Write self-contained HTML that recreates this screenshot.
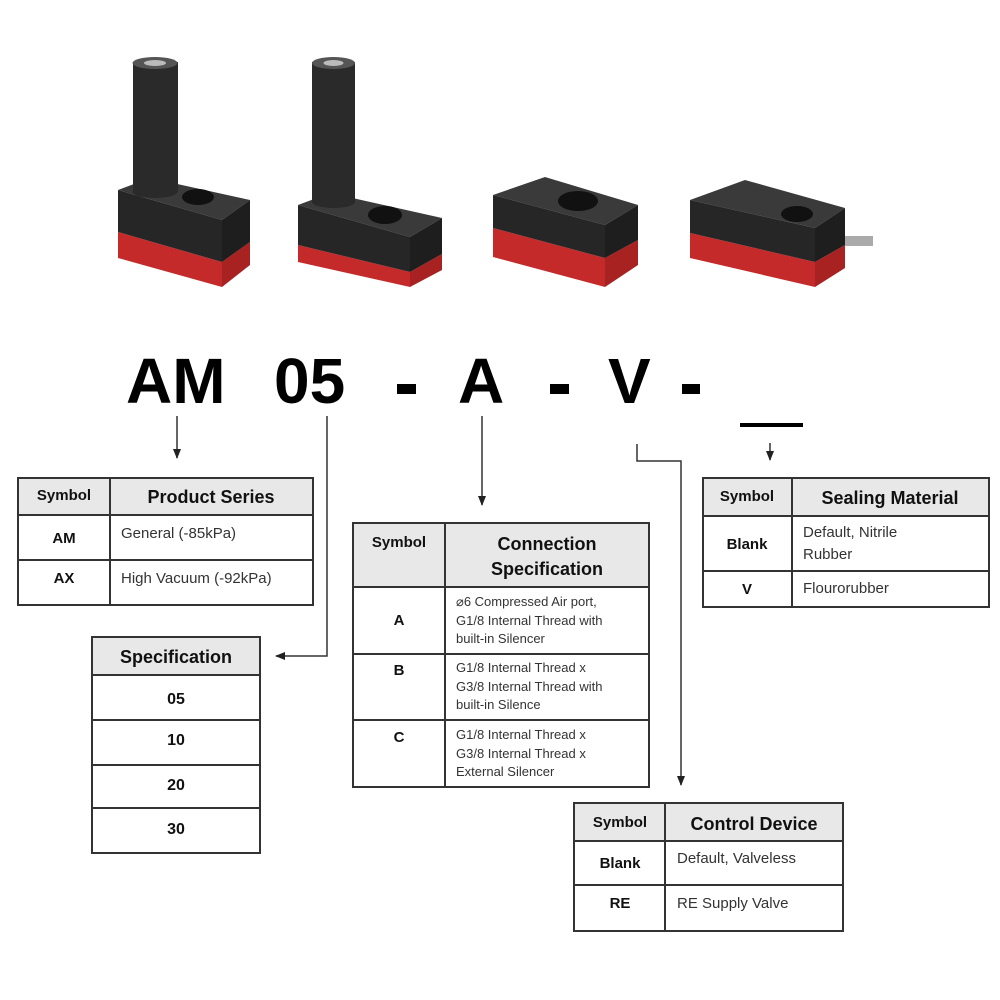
<!DOCTYPE html>
<html><head><meta charset="utf-8"><style>
html,body{margin:0;padding:0;background:#fff;}
svg{display:block;font-family:"Liberation Sans",sans-serif;}
.h{fill:#e8e8e8;stroke:#333;stroke-width:2}
.b{fill:#fff;stroke:#333;stroke-width:2}
.l{stroke:#333;stroke-width:2}
.c{stroke:#333;stroke-width:1.5;fill:none}
.bold{font-weight:bold;fill:#111}
.t{fill:#333}
.top{fill:#3a3a3a}.blk{fill:#262626}.side{fill:#1e1e1e}.red{fill:#c42a2a}.redd{fill:#a82222}
</style></head><body>
<svg width="1000" height="1000" viewBox="0 0 1000 1000">
<defs><marker id="a" markerWidth="10" markerHeight="10" refX="9" refY="5" orient="auto" markerUnits="userSpaceOnUse"><path d="M0,1 L10,5 L0,9 z" fill="#222"/></marker></defs>

<!-- products -->
<g>
<!-- P1 -->
<polygon class="top" points="118,190 150,178 250,200 222,220"/>
<polygon class="red" points="118,232 222,262 222,287 118,258"/>
<polygon class="blk" points="118,190 222,220 222,262 118,232"/>
<polygon class="redd" points="222,262 250,242 250,265 222,287"/>
<polygon class="side" points="222,220 250,200 250,242 222,262"/>
<ellipse cx="198" cy="197" rx="16" ry="8" fill="#111"/>
<rect x="133" y="62" width="45" height="130" fill="#2a2a2a"/>
<ellipse cx="155" cy="192" rx="22.5" ry="6" fill="#2a2a2a"/>
<ellipse cx="155" cy="63" rx="22.5" ry="6" fill="#555"/><ellipse cx="155" cy="63" rx="11" ry="3" fill="#bbb"/>

<!-- P2 -->
<polygon class="top" points="298,205 330,193 442,218 410,237"/>
<polygon class="red" points="298,245 410,272 410,287 298,262"/>
<polygon class="blk" points="298,205 410,237 410,272 298,245"/>
<polygon class="redd" points="410,272 442,254 442,270 410,287"/>
<polygon class="side" points="410,237 442,218 442,254 410,272"/>
<ellipse cx="385" cy="215" rx="17" ry="9" fill="#111"/>
<rect x="312" y="62" width="43" height="140" fill="#2a2a2a"/>
<ellipse cx="333.5" cy="202" rx="21.5" ry="6" fill="#2a2a2a"/>
<ellipse cx="333.5" cy="63" rx="21.5" ry="6" fill="#555"/><ellipse cx="333.5" cy="63" rx="10" ry="3" fill="#bbb"/>

<!-- P3 -->
<polygon class="top" points="493,195 545,177 638,205 605,225"/>
<polygon class="red" points="493,228 605,258 605,287 493,257"/>
<polygon class="blk" points="493,195 605,225 605,258 493,228"/>
<polygon class="redd" points="605,258 638,240 638,265 605,287"/>
<polygon class="side" points="605,225 638,205 638,240 605,258"/>
<ellipse cx="578" cy="201" rx="20" ry="10" fill="#111"/>

<!-- P4 -->
<polygon class="top" points="690,200 745,180 845,208 815,228"/>
<polygon class="red" points="690,233 815,262 815,287 690,258"/>
<polygon class="blk" points="690,200 815,228 815,262 690,233"/>
<polygon class="redd" points="815,262 845,245 845,268 815,287"/>
<polygon class="side" points="815,228 845,208 845,245 815,262"/>
<ellipse cx="797" cy="214" rx="16" ry="8" fill="#111"/>
<rect x="845" y="236" width="28" height="10" fill="#aaa"/>
</g>

<!-- title -->
<g font-weight="bold" font-size="64" fill="#000">
<text x="126" y="403">AM</text>
<text x="274" y="403">05</text>
<text x="458" y="403">A</text>
<text x="608" y="403">V</text>
</g>
<rect x="397" y="384" width="19" height="10" fill="#000"/>
<rect x="550" y="384" width="19" height="10" fill="#000"/>
<rect x="682" y="384" width="18" height="10" fill="#000"/>
<rect x="740" y="423" width="63" height="4" fill="#000"/>

<!-- connectors -->
<line class="c" x1="177" y1="416" x2="177" y2="458" marker-end="url(#a)"/>
<polyline class="c" points="327,416 327,656 276,656" marker-end="url(#a)"/>
<line class="c" x1="482" y1="416" x2="482" y2="505" marker-end="url(#a)"/>
<polyline class="c" points="637,444 637,461 681,461 681,785" marker-end="url(#a)"/>
<line class="c" x1="770" y1="443" x2="770" y2="460" marker-end="url(#a)"/>

<!-- Table 1 -->
<rect class="h" x="18" y="478" width="295" height="37"/>
<rect class="b" x="18" y="515" width="295" height="45"/>
<rect class="b" x="18" y="560" width="295" height="45"/>
<line class="l" x1="110" y1="478" x2="110" y2="605"/>
<text class="bold" x="64" y="500" font-size="15" text-anchor="middle">Symbol</text>
<text class="bold" x="211" y="503" font-size="18" text-anchor="middle">Product Series</text>
<text class="bold" x="64" y="543" font-size="15" text-anchor="middle">AM</text>
<text class="t" x="121" y="538" font-size="15">General (-85kPa)</text>
<text class="bold" x="64" y="583" font-size="15" text-anchor="middle">AX</text>
<text class="t" x="121" y="583" font-size="15">High Vacuum (-92kPa)</text>

<!-- Spec -->
<rect class="h" x="92" y="637" width="168" height="38"/>
<rect class="b" x="92" y="675" width="168" height="45"/>
<rect class="b" x="92" y="720" width="168" height="45"/>
<rect class="b" x="92" y="765" width="168" height="43"/>
<rect class="b" x="92" y="808" width="168" height="45"/>
<text class="bold" x="176" y="663" font-size="18" text-anchor="middle">Specification</text>
<text class="bold" x="176" y="704" font-size="16" text-anchor="middle">05</text>
<text class="bold" x="176" y="745" font-size="16" text-anchor="middle">10</text>
<text class="bold" x="176" y="790" font-size="16" text-anchor="middle">20</text>
<text class="bold" x="176" y="834" font-size="16" text-anchor="middle">30</text>

<!-- Connection -->
<rect class="h" x="353" y="523" width="296" height="64"/>
<rect class="b" x="353" y="587" width="296" height="67"/>
<rect class="b" x="353" y="654" width="296" height="66"/>
<rect class="b" x="353" y="720" width="296" height="67"/>
<line class="l" x1="445" y1="523" x2="445" y2="787"/>
<text class="bold" x="399" y="547" font-size="15" text-anchor="middle">Symbol</text>
<text class="bold" x="547" y="550" font-size="18" text-anchor="middle">Connection</text>
<text class="bold" x="547" y="575" font-size="18" text-anchor="middle">Specification</text>
<text class="bold" x="399" y="625" font-size="15" text-anchor="middle">A</text>
<text class="bold" x="399" y="675" font-size="15" text-anchor="middle">B</text>
<text class="bold" x="399" y="742" font-size="15" text-anchor="middle">C</text>
<g class="t" font-size="13">
<text x="456" y="606">⌀6 Compressed Air port,</text>
<text x="456" y="625">G1/8 Internal Thread with</text>
<text x="456" y="643">built-in Silencer</text>
<text x="456" y="672">G1/8 Internal Thread x</text>
<text x="456" y="691">G3/8 Internal Thread with</text>
<text x="456" y="709">built-in Silence</text>
<text x="456" y="739">G1/8 Internal Thread x</text>
<text x="456" y="758">G3/8 Internal Thread x</text>
<text x="456" y="776">External Silencer</text>
</g>

<!-- Sealing -->
<rect class="h" x="703" y="478" width="286" height="38"/>
<rect class="b" x="703" y="516" width="286" height="55"/>
<rect class="b" x="703" y="571" width="286" height="36"/>
<line class="l" x1="792" y1="478" x2="792" y2="607"/>
<text class="bold" x="747" y="501" font-size="15" text-anchor="middle">Symbol</text>
<text class="bold" x="890" y="504" font-size="18" text-anchor="middle">Sealing Material</text>
<text class="bold" x="747" y="549" font-size="15" text-anchor="middle">Blank</text>
<text class="t" x="803" y="537" font-size="15">Default, Nitrile</text>
<text class="t" x="803" y="559" font-size="15">Rubber</text>
<text class="bold" x="747" y="594" font-size="15" text-anchor="middle">V</text>
<text class="t" x="803" y="593" font-size="15">Flourorubber</text>

<!-- Control -->
<rect class="h" x="574" y="803" width="269" height="38"/>
<rect class="b" x="574" y="841" width="269" height="44"/>
<rect class="b" x="574" y="885" width="269" height="46"/>
<line class="l" x1="665" y1="803" x2="665" y2="931"/>
<text class="bold" x="620" y="827" font-size="15" text-anchor="middle">Symbol</text>
<text class="bold" x="754" y="830" font-size="18" text-anchor="middle">Control Device</text>
<text class="bold" x="620" y="868" font-size="15" text-anchor="middle">Blank</text>
<text class="t" x="677" y="863" font-size="15">Default, Valveless</text>
<text class="bold" x="620" y="908" font-size="15" text-anchor="middle">RE</text>
<text class="t" x="677" y="908" font-size="15">RE Supply Valve</text>
</svg>
</body></html>
